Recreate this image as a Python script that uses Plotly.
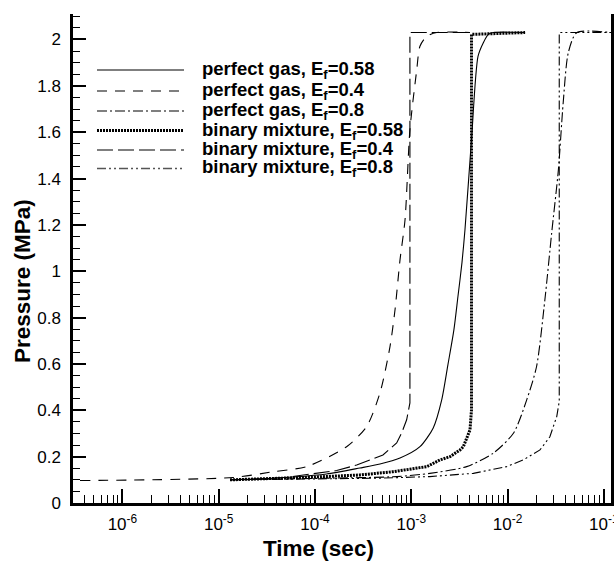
import plotly.graph_objects as go

# ---------------- data (time in s, pressure in MPa) ----------------
pg058_t = [1.31e-5, 2.69e-5, 5.92e-5, 1.32e-4, 2.93e-4, 4.73e-4, 7.64e-4, 1.23e-3, 1.69e-3,
           2.07e-3, 2.40e-3, 2.77e-3, 3.05e-3, 3.36e-3, 3.61e-3, 4.22e-3, 4.93e-3, 5.60e-3,
           6.31e-3, 7.10e-3, 1.52e-2]
pg058_p = [0.100, 0.104, 0.112, 0.125, 0.151, 0.168, 0.194, 0.243, 0.324,
           0.445, 0.596, 0.747, 0.890, 1.037, 1.179, 1.568, 1.927, 1.986,
           2.022, 2.030, 2.030]

pg04_t = [3.63e-7, 1.41e-5, 3.69e-5, 8.20e-5, 2.13e-4, 3.44e-4, 4.73e-4, 6.01e-4, 6.78e-4,
          7.64e-4, 8.61e-4, 9.68e-4, 1.14e-3, 1.23e-3, 1.45e-3, 1.84e-3, 4.07e-3]
pg04_p = [0.097, 0.110, 0.135, 0.157, 0.243, 0.330, 0.475, 0.675, 0.834,
          1.050, 1.222, 1.611, 1.870, 1.971, 2.014, 2.030, 2.030]

pg08_t = [1.31e-5, 1.32e-4, 7.05e-4, 1.56e-3, 3.76e-3, 7.10e-3, 1.15e-2, 1.58e-2, 2.00e-2,
          2.44e-2, 2.87e-2, 3.37e-2, 3.78e-2, 4.27e-2, 5.22e-2, 0.119]
pg08_p = [0.100, 0.107, 0.114, 0.128, 0.157, 0.215, 0.301, 0.445, 0.589,
          0.877, 1.165, 1.438, 1.727, 1.943, 2.029, 2.030]

bm058_t = [1.31e-5, 2.69e-5, 8.87e-5, 2.93e-4, 6.46e-4, 1.45e-3, 1.99e-3, 2.52e-3, 3.21e-3,
           3.47e-3, 4.07e-3, 4.22e-3, 4.22e-3, 1.52e-2]
bm058_p = [0.100, 0.104, 0.111, 0.121, 0.135, 0.157, 0.186, 0.200, 0.229,
           0.243, 0.315, 0.402, 2.022, 2.030]

bm04_t = [1.31e-5, 2.69e-5, 5.08e-5, 9.53e-5, 1.68e-4, 2.71e-4, 3.72e-4, 5.08e-4, 7.05e-4,
          7.94e-4, 8.95e-4, 9.68e-4, 9.68e-4, 4.07e-3]
bm04_p = [0.100, 0.104, 0.111, 0.125, 0.140, 0.164, 0.186, 0.207, 0.259,
          0.302, 0.359, 0.432, 2.030, 2.030]

bm08_t = [1.31e-5, 4.73e-4, 1.56e-3, 4.41e-3, 9.79e-3, 1.46e-2, 2.17e-2, 2.75e-2, 3.24e-2,
          3.44e-2, 3.44e-2, 0.119]
bm08_p = [0.100, 0.107, 0.114, 0.128, 0.157, 0.186, 0.229, 0.286, 0.373,
          0.438, 2.030, 2.030]

series_names = ["perfect gas, E<sub>f</sub>=0.58",
                "perfect gas, E<sub>f</sub>=0.4",
                "perfect gas, E<sub>f</sub>=0.8",
                "binary mixture, E<sub>f</sub>=0.58",
                "binary mixture, E<sub>f</sub>=0.4",
                "binary mixture, E<sub>f</sub>=0.8"]

x_title = "Time (sec)"
y_title = "Pressure (MPa)"
x_tick_vals = [1e-6, 1e-5, 1e-4, 1e-3, 1e-2, 1e-1]
x_tick_text = ["10<sup>-6</sup>", "10<sup>-5</sup>", "10<sup>-4</sup>",
               "10<sup>-3</sup>", "10<sup>-2</sup>", "10<sup>-1</sup>"]
x_decades = [-7, -6, -5, -4, -3, -2, -1]
minor_digits = [2, 3, 4, 5, 6, 7, 8, 9]

# ---------------- styling ----------------
styles = [
    dict(color="black", width=1.1, dash="solid", shape="spline", smoothing=0.7),
    dict(color="black", width=1.1, dash="10px,8px", shape="spline", smoothing=0.7),
    dict(color="black", width=1.1, dash="10px,3px,2px,3px", shape="spline", smoothing=0.7),
    dict(color="black", width=3.0, dash="2px,1px"),
    dict(color="black", width=1.1, dash="16px,5px"),
    dict(color="black", width=1.1, dash="9px,3px,2px,3px,2px,3px"),
]
legend_styles = [
    dict(color="#555", width=1.3, dash="solid"),
    dict(color="#555", width=1.3, dash="10px,8px"),
    dict(color="#555", width=1.3, dash="10px,3px,2px,3px"),
    dict(color="black", width=3.0, dash="2px,1px"),
    dict(color="#555", width=1.3, dash="16px,5px"),
    dict(color="#555", width=1.3, dash="9px,3px,2px,3px,2px,3px"),
]

W, H = 614, 564
ML, MR, MT, MB = 73, 3, 14, 61
PW, PH = W - ML - MR, H - MT - MB

FONT = "Liberation Sans, Arial, Helvetica, sans-serif"

def px_to_paper(xpx, ypx):
    return (xpx - ML) / PW, (H - MB - ypx) / PH

fig = go.Figure()
all_t = [pg058_t, pg04_t, pg08_t, bm058_t, bm04_t, bm08_t]
all_p = [pg058_p, pg04_p, pg08_p, bm058_p, bm04_p, bm08_p]
for name, t, p, st in zip(series_names, all_t, all_p, styles):
    fig.add_trace(go.Scatter(x=t, y=p, mode="lines", name=name, line=st,
                             showlegend=False))

minor_vals = [d * 10.0 ** e for e in x_decades for d in minor_digits]

fig.update_xaxes(
    type="log", range=[-6.513, -0.926],
    showline=True, linecolor="black", linewidth=2.5, mirror=False,
    showgrid=False, zeroline=False,
    ticks="inside", ticklen=14, tickwidth=2.2, tickcolor="black",
    tickmode="array", tickvals=x_tick_vals, ticktext=x_tick_text,
    tickfont=dict(family=FONT, size=17, color="black"),
    ticklabelstandoff=4, ticklabeloverflow="allow",
    minor=dict(ticks="inside", ticklen=8, tickwidth=1.3, tickcolor="black",
               tickmode="array", tickvals=minor_vals, showgrid=False),
)
fig.update_yaxes(
    range=[0, 2.11],
    showline=True, linecolor="black", linewidth=2.5, mirror=True,
    showgrid=False, zeroline=False,
    ticks="inside", ticklen=13, tickwidth=2.2, tickcolor="black",
    tick0=0, dtick=0.2,
    tickfont=dict(family=FONT, size=17, color="black"),
    ticklabelstandoff=6,
    minor=dict(ticks="inside", ticklen=7, tickwidth=1.2, tickcolor="black",
               dtick=0.05, tick0=0, showgrid=False),
)

# custom legend (sample lines + labels) in paper coordinates
leg_x0_px, leg_x1_px, leg_text_px = 97, 184, 200
leg_rows_px = [70, 91, 111, 130.5, 150, 168.5]
shapes = []
annotations = []
for name, st, ypx in zip(series_names, legend_styles, leg_rows_px):
    x0, yp = px_to_paper(leg_x0_px, ypx)
    x1, _ = px_to_paper(leg_x1_px, ypx)
    xt, _ = px_to_paper(leg_text_px, ypx)
    shapes.append(dict(type="line", xref="paper", yref="paper",
                       x0=x0, x1=x1, y0=yp, y1=yp, line=st))
    annotations.append(dict(xref="paper", yref="paper", x=xt, y=yp,
                            xanchor="left", yanchor="middle", showarrow=False,
                            text="<b>" + name + "</b>",
                            font=dict(family=FONT, size=18.5, color="black")))

# axis titles (placed like the reference, not centred on the frame)
xt_x, xt_y = px_to_paper(318, 548)
yt_x, yt_y = px_to_paper(22, 281)
annotations.append(dict(xref="paper", yref="paper", x=xt_x, y=xt_y,
                        xanchor="center", yanchor="middle", showarrow=False,
                        text="<b>" + x_title + "</b>",
                        font=dict(family=FONT, size=22.5, color="black")))
annotations.append(dict(xref="paper", yref="paper", x=yt_x, y=yt_y,
                        xanchor="center", yanchor="middle", showarrow=False,
                        textangle=-90,
                        text="<b>" + y_title + "</b>",
                        font=dict(family=FONT, size=22.5, color="black")))

fig.update_layout(
    width=W, height=H,
    margin=dict(l=ML, r=MR, t=MT, b=MB, autoexpand=False),
    plot_bgcolor="white", paper_bgcolor="white",
    shapes=shapes, annotations=annotations,
    showlegend=False,
)

fig.write_html("out.html")
